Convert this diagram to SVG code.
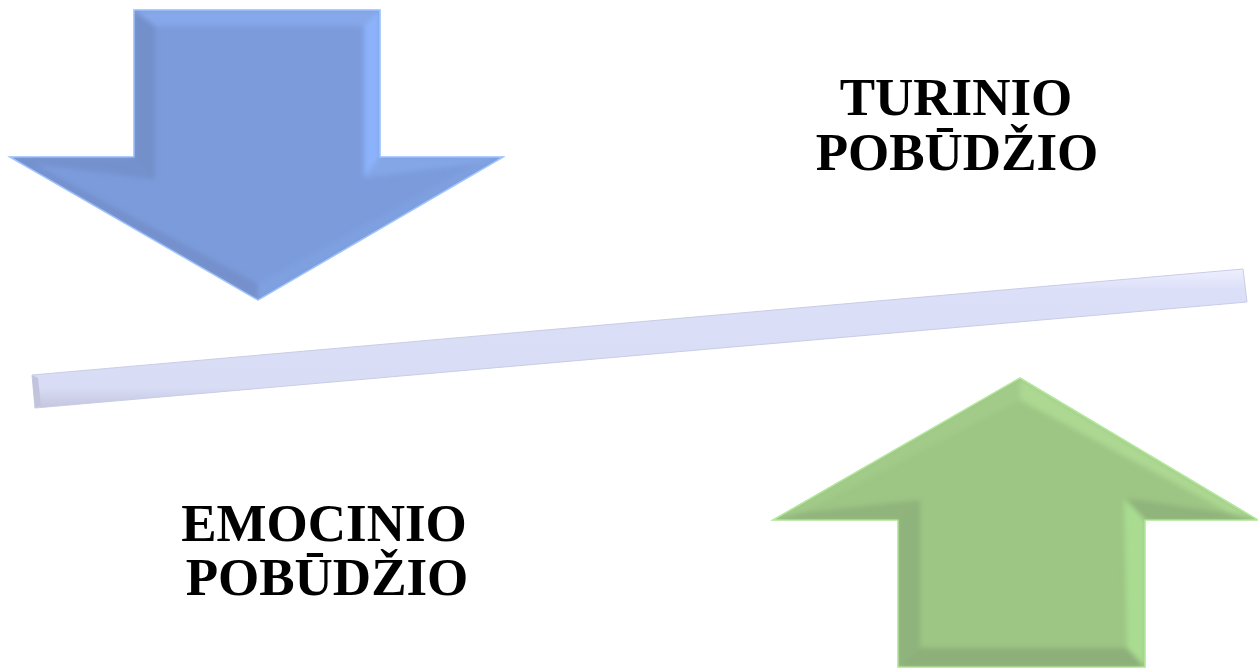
<svg xmlns="http://www.w3.org/2000/svg" width="1258" height="671" viewBox="0 0 1258 671">
  <style>
    .lbl { font-family: "Liberation Serif", "Times New Roman", serif; font-weight: bold; font-size: 53px; fill: #000; text-anchor: middle; }
  </style>
  <defs>
    <filter id="soft" x="-5%" y="-5%" width="110%" height="110%">
      <feGaussianBlur stdDeviation="2.5"/>
    </filter>
    <clipPath id="clipBlue">
      <polygon points="134,10 380,10 380,157 503,157 258,300 10,157 134,157"/>
    </clipPath>
    <clipPath id="clipGreen">
      <polygon points="1020,378 1258,520 1145,520 1145,667 898,667 898,520 773,520"/>
    </clipPath>
    <linearGradient id="barGrad" x1="0" y1="0" x2="0" y2="1">
      <stop offset="0" stop-color="#eef0ff"/>
      <stop offset="0.15" stop-color="#dcdff8"/>
      <stop offset="0.85" stop-color="#d9dcf5"/>
      <stop offset="1" stop-color="#c4c6de"/>
    </linearGradient>
  </defs>

  <rect width="1258" height="671" fill="#ffffff"/>

  <!-- Blue down arrow -->
  <g id="arrow-down">
    <polygon points="134,10 380,10 380,157 503,157 258,300 10,157 134,157" fill="#7b9bdb" stroke="#9cc2ff" stroke-width="1.5"/>
    <g clip-path="url(#clipBlue)">
      <g filter="url(#soft)">
        <polygon points="134,10 380,10 364,26 155,26" fill="#86a8ea"/>
        <polygon points="380,10 380,157 364,178 364,26" fill="#8cb2fb"/>
        <polygon points="380,157 503,157 478,163 364,178" fill="#84a6e6"/>
        <polygon points="503,157 258,300 258,284 478,163" fill="#7fa0e0"/>
        <polygon points="258,300 10,157 32,163 258,284" fill="#7490cc"/>
        <polygon points="10,157 134,157 155,180 32,163" fill="#7591cd"/>
        <polygon points="134,157 134,10 155,26 155,180" fill="#7390cb"/>
      </g>
    </g>
    <polygon points="134,10 380,10 380,157 503,157 258,300 10,157 134,157" fill="none" stroke="#a6c8ff" stroke-width="1.2" opacity="0.8"/>
  </g>

  <!-- Balance bar -->
  <g id="bar">
    <polygon points="32,375 1243,269 1247,302 35,408" fill="url(#barGrad)" stroke="#c9cce6" stroke-width="1"/>
    <polygon points="32,375 38,378 41,405 35,408" fill="#c2c4dc"/>
  </g>

  <!-- Green up arrow -->
  <g id="arrow-up">
    <polygon points="1020,378 1258,520 1145,520 1145,667 898,667 898,520 773,520" fill="#9dc584" stroke="#b3e89c" stroke-width="1.5"/>
    <g clip-path="url(#clipGreen)">
      <g filter="url(#soft)">
        <polygon points="773,520 1020,378 1020,400 800,513" fill="#a2cb89"/>
        <polygon points="1020,378 1258,520 1232,514 1020,400" fill="#acd892"/>
        <polygon points="1258,520 1145,520 1124,498 1232,514" fill="#8fb47b"/>
        <polygon points="1145,520 1145,667 1127,648 1124,498" fill="#a9dc91"/>
        <polygon points="1145,667 898,667 920,648 1127,648" fill="#8daf79"/>
        <polygon points="898,667 898,520 920,500 920,648" fill="#8fb37b"/>
        <polygon points="898,520 773,520 800,513 920,500" fill="#90b47c"/>
      </g>
    </g>
    <polygon points="1020,378 1258,520 1145,520 1145,667 898,667 898,520 773,520" fill="none" stroke="#b5ea9e" stroke-width="1.2" opacity="0.8"/>
  </g>

  <!-- Labels -->
  <g id="label-turinio">
    <text class="lbl" x="956" y="115">TURINIO</text>
    <text class="lbl" x="957" y="170">POBŪDŽIO</text>
  </g>
  <g id="label-emocinio">
    <text class="lbl" x="324" y="541">EMOCINIO</text>
    <text class="lbl" x="327" y="595">POBŪDŽIO</text>
  </g>
</svg>
